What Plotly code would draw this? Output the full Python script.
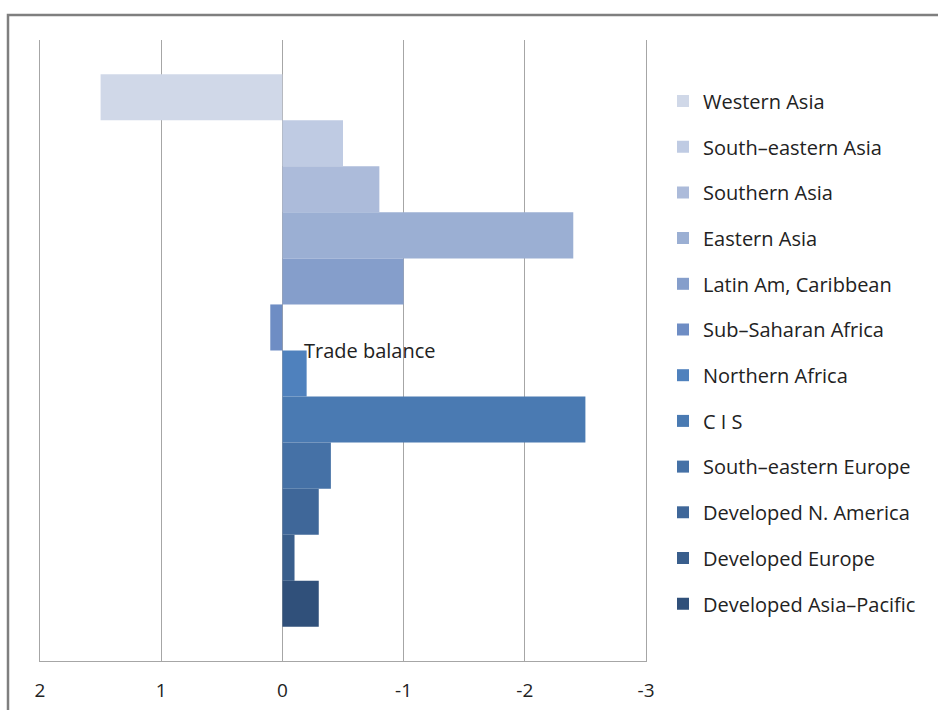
import plotly.graph_objects as go

regions = ["Western Asia", "South\u2013eastern Asia", "Southern Asia", "Eastern Asia",
           "Latin Am, Caribbean", "Sub\u2013Saharan Africa", "Northern Africa", "C I S",
           "South\u2013eastern Europe", "Developed N. America", "Developed Europe",
           "Developed Asia\u2013Pacific"]
values = [1.5, -0.5, -0.8, -2.4, -1.0, 0.1, -0.2, -2.5, -0.4, -0.3, -0.1, -0.3]
colors = ["#D0D8E8", "#BFCBE3", "#ACBBDA", "#9BAFD3", "#859ECB", "#6E8DC4",
          "#4F81BD", "#4A7AB2", "#4571A6", "#3F6799", "#395E8C", "#30507A"]
category = "Trade balance"
tick_vals = [2, 1, 0, -1, -2, -3]
tick_text = ["2", "1", "0", "-1", "-2", "-3"]

fig = go.Figure()
for name, v, c in zip(regions, values, colors):
    fig.add_trace(go.Bar(y=[category], x=[v], name=name, orientation="h",
                         marker=dict(color=c, line=dict(width=0)),
                         legendgroup=name))

W, H = 938, 710
ml, mr, mt, mb = 40, 292, 40, 49
pw, ph = W - ml - mr, H - mt - mb

def px_x(p):
    return (p - ml) / pw

def px_y(p):
    return (H - mb - p) / ph

FONT = "Open Sans, Noto Sans, sans-serif"
fig.update_layout(
    width=W, height=H,
    margin=dict(l=ml, r=mr, t=mt, b=mb, autoexpand=False),
    paper_bgcolor="white", plot_bgcolor="white",
    barmode="group", bargap=0.11, bargroupgap=0,
    font=dict(family=FONT, size=19, color="#222222"),
    showlegend=True,
    legend=dict(x=px_x(663), y=px_y(81.5), xanchor="left", yanchor="top",
                traceorder="grouped", tracegroupgap=16.7,
                font=dict(family=FONT, size=20, color="#222222"),
                itemwidth=30, bgcolor="rgba(0,0,0,0)"),
    xaxis=dict(range=[2, -3], tickvals=tick_vals, ticktext=tick_text,
               showgrid=True, gridcolor="#A6A6A6", gridwidth=1,
               zeroline=True, zerolinecolor="#A6A6A6", zerolinewidth=1,
               showline=True, linecolor="#A6A6A6", linewidth=1,
               ticks="", ticklabelstandoff=12, automargin=False,
               tickfont=dict(family=FONT, size=19, color="#222222")),
    yaxis=dict(autorange="reversed", showticklabels=False, ticks="",
               showgrid=False, zeroline=False, automargin=False,
               showline=True, mirror=True, linecolor="#A6A6A6", linewidth=1),
    annotations=[dict(x=0, y=category, xref="x", yref="y", text=category,
                      showarrow=False, xanchor="left", yanchor="middle",
                      xshift=20, font=dict(family=FONT, size=20, color="#222222"))],
    shapes=[dict(type="rect", xref="paper", yref="paper",
                 x0=px_x(8), x1=px_x(960), y0=px_y(740), y1=px_y(15),
                 line=dict(color="#7F7F7F", width=2.5), fillcolor="rgba(0,0,0,0)",
                 layer="below")],
)

fig.write_html("out.html")
